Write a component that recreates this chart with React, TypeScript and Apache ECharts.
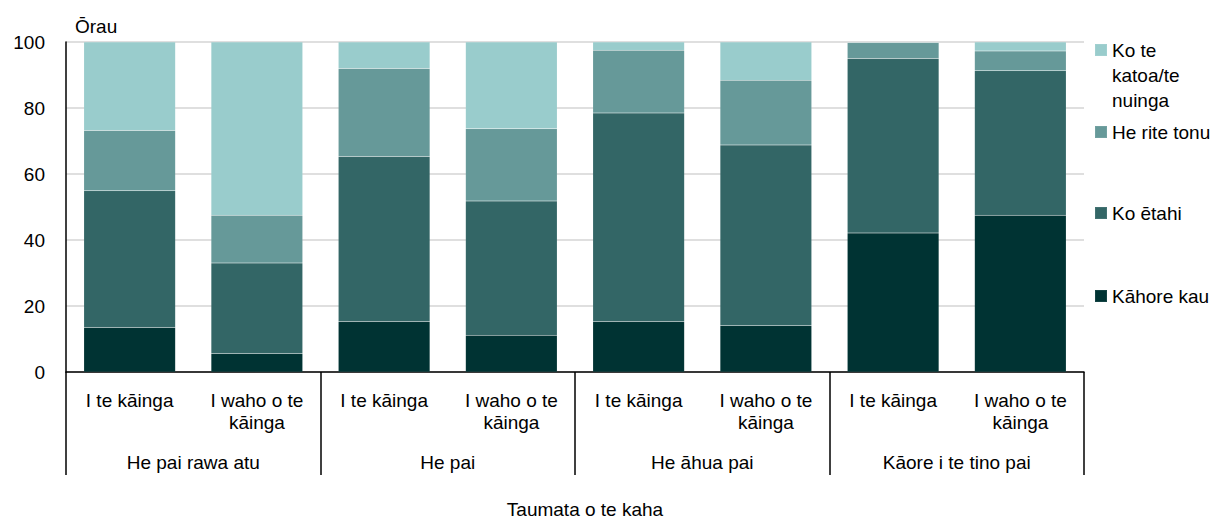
import React, { useEffect, useRef } from "react";
import * as echarts from "echarts";

const subCategories = [
  "I te kāinga",
  "I waho o te\nkāinga",
  "I te kāinga",
  "I waho o te\nkāinga",
  "I te kāinga",
  "I waho o te\nkāinga",
  "I te kāinga",
  "I waho o te\nkāinga",
];
const groupCategories = ["He pai rawa atu", "He pai", "He āhua pai", "Kāore i te tino pai"];

const seriesNames = ["Kāhore kau", "Ko ētahi", "He rite tonu", "Ko te katoa/te nuinga"];
const kahoreKau = [13.5, 5.6, 15.3, 11.1, 15.3, 14.1, 42.1, 47.5];
const koEtahi = [41.4, 27.4, 50.0, 40.7, 63.2, 54.7, 52.9, 43.8];
const heRiteTonu = [18.3, 14.5, 26.7, 21.9, 19.0, 19.6, 4.8, 6.0];
const koTeKatoa = [26.8, 52.5, 8.0, 26.3, 2.5, 11.6, 0.2, 2.7];
const seriesValues = [kahoreKau, koEtahi, heRiteTonu, koTeKatoa];
const seriesColors = ["#003333", "#336666", "#669999", "#99CCCC"];

const yTicks = [0, 20, 40, 60, 80, 100];

const FONT = "Arial, 'Liberation Sans', sans-serif";
const FS = 19;

export default function App() {
  const ref = useRef<HTMLDivElement>(null);
  useEffect(() => {
    document.body.style.margin = "0";
    const chart = echarts.init(ref.current!, null, { renderer: "svg" });
    // icon centre y positions of the legend entries (top to bottom)
    const legendCenters = [50, 132, 213, 296];
    const legendOrder = [3, 2, 1, 0];
    chart.setOption({
      animation: false,
      textStyle: { fontFamily: FONT, color: "#000" },
      grid: { left: 66, right: 140, top: 42, bottom: 148, containLabel: false, outerBoundsMode: "none" },
      legend: legendOrder.map((si, i) => ({
        data: [seriesNames[si]],
        orient: "vertical",
        left: 1094,
        top: si === 3 ? legendCenters[i] - 62.5 : legendCenters[i] - 12.5,
        padding: 0,
        itemWidth: 12,
        itemHeight: 12,
        icon: "rect",
        selectedMode: false,
        formatter: (n: string) => (n === "Ko te katoa/te nuinga" ? "\n\nKo te\nkatoa/te\nnuinga" : n),
        textStyle: {
          fontFamily: FONT,
          fontSize: FS,
          color: "#000",
          lineHeight: 25,
        },
      })),
      xAxis: [
        {
          type: "category",
          data: subCategories,
          position: "bottom",
          axisLine: { show: true, lineStyle: { color: "#000", width: 1.5 } },
          axisTick: { show: false },
          axisLabel: {
            interval: 0,
            margin: 17,
            fontFamily: FONT,
            fontSize: FS,
            color: "#000",
            lineHeight: 22,
          },
          name: "Taumata o te kaha",
          nameLocation: "middle",
          nameGap: 128,
          nameTextStyle: {
            fontFamily: FONT,
            fontSize: FS,
            color: "#000",
            lineHeight: 19,
            padding: [0, 0, 0, 20],
          },
        },
        {
          type: "category",
          data: groupCategories,
          position: "bottom",
          axisLine: { show: false },
          axisTick: { show: true, length: 103, interval: 0, lineStyle: { color: "#000", width: 1.5 } },
          axisLabel: { interval: 0, margin: 81, fontFamily: FONT, fontSize: FS, color: "#000" },
        },
      ],
      yAxis: {
        type: "value",
        min: 0,
        max: 100,
        interval: 20,
        name: "Ōrau",
        nameLocation: "end",
        nameGap: 6,
        nameTextStyle: { fontFamily: FONT, fontSize: FS, color: "#000", align: "left", padding: [0, 0, 0, 9] },
        axisLine: { show: true, lineStyle: { color: "#000", width: 1.5 } },
        axisTick: { show: false },
        axisLabel: {
          margin: 21,
          fontFamily: FONT,
          fontSize: FS,
          color: "#000",
          formatter: (v: number) => (yTicks.includes(v) ? String(v) : ""),
        },
        splitLine: { show: true, lineStyle: { color: "#d4d4d4", width: 1.5 } },
      },
      series: seriesValues.map((vals, i) => ({
        name: seriesNames[i],
        type: "bar",
        stack: "total",
        xAxisIndex: 0,
        data: vals,
        barWidth: "72%",
        itemStyle: { color: seriesColors[i], borderColor: "rgba(255,255,255,0.08)", borderWidth: 0.5 },
      })),
    });
    return () => chart.dispose();
  }, []);
  return <div ref={ref} style={{ width: 1224, height: 520 }} />;
}
